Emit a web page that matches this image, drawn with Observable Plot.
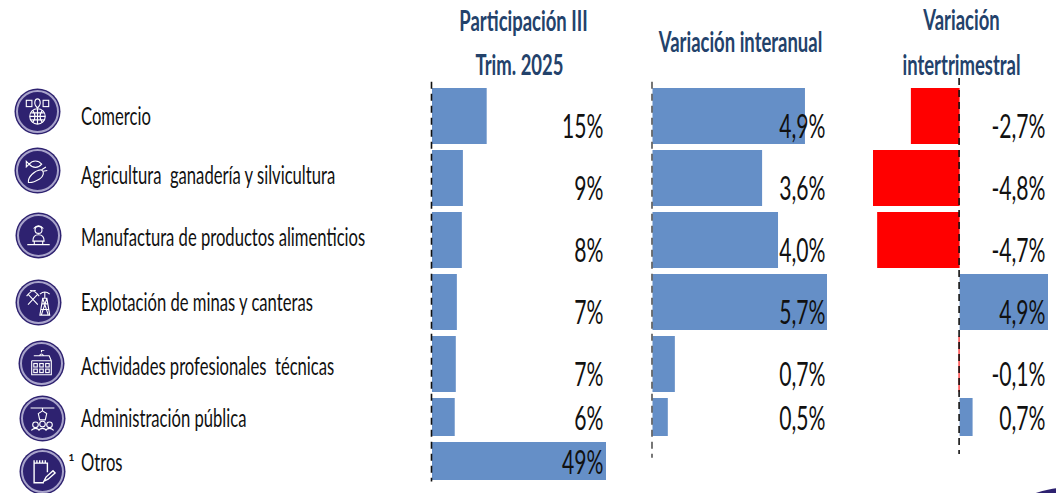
<!DOCTYPE html>
<html>
<head>
<meta charset="utf-8">
<script src="https://cdn.jsdelivr.net/npm/d3@7"></script>
<script src="https://cdn.jsdelivr.net/npm/@observablehq/plot@0.6"></script>
<style>
html,body{margin:0;padding:0;background:#fff;overflow:hidden}
#chart{position:relative;width:1056px;height:493px;overflow:hidden}
#chart svg{position:absolute;left:0;top:0;background:transparent}
</style>
</head>
<body>
<div id="chart"></div>
<script>
const categories = ["Comercio","Agricultura  ganadería y silvicultura","Manufactura de productos alimenticios","Explotación de minas y canteras","Actividades profesionales  técnicas","Administración pública","Otros"];
const shareValues = [15.4,8.7,8.4,7.0,6.7,6.4,49];
const shareLabels = ["15%","9%","8%","7%","7%","6%","49%"];
const yoyValues = [4.98,3.58,4.1,5.7,0.73,0.5];
const yoyLabels = ["4,9%","3,6%","4,0%","5,7%","0,7%","0,5%"];
const qoqValues = [-2.7,-4.8,-4.57,4.9,-0.06,0.72];
const qoqLabels = ["-2,7%","-4,8%","-4,7%","4,9%","-0,1%","0,7%"];

const FONT = "Lato, Carlito, sans-serif";
const squeeze = sx => (index, scales, values, dims, ctx, next) => {
  const g = next(index, scales, values, dims, ctx);
  d3.select(g).selectAll("text").attr("transform", function () {
    return (this.getAttribute("transform") || "") + ` scale(${sx},1)`;
  });
  return g;
};
const yScale = {type: "linear", axis: null, domain: [0, 5, 7], range: [88, 398, 486]};
const base = {width: 1056, height: 493, margin: 0, style: {background: "transparent"}};
const valueRow = i => i + (i < 5 ? 0.63 : 0.47);

function panel(values, labels, domain, range, labelRight, axisTop, axisBottom, axisColor) {
  const rows = values.map((v, i) => ({i, v, label: labels[i]}));
  return Plot.plot({
    ...base,
    x: {axis: null, domain, range},
    y: yScale,
    color: {domain: [false, true], range: ["#658fc7", "#ff0000"]},
    marks: [
      Plot.rectX(rows, {x1: () => 0, x2: "v", y1: "i", y2: d => d.i + 1, insetBottom: 6, fill: d => d.v < 0}),
      Plot.ruleX([0], {y1: () => axisTop, y2: () => axisBottom, stroke: axisColor, strokeWidth: 1.6, strokeDasharray: "7 5", dx: -1}),
      Plot.text(rows, {y: d => valueRow(d.i), text: "label", frameAnchor: "right", dx: labelRight - 1056,
        fontFamily: FONT, fontSize: 33, fill: "#111", render: squeeze(0.64)})
    ]
  });
}

const svgIcon = body => "data:image/svg+xml," + encodeURIComponent(
  `<svg xmlns="http://www.w3.org/2000/svg" viewBox="0 0 40 40" fill="none" stroke="#fff" stroke-width="1.6">${body}</svg>`);
const glyphs = [
  `<circle cx="20" cy="27" r="11"/><path d="M9 27h22M20 16v22M13 18q7 9 0 18M27 18q-7 9 0 18M11 22h18M11 32h18"/><rect x="4" y="4" width="8" height="9"/><rect x="28" y="4" width="8" height="9"/><path d="M20 15c-7-7-3-13 0-13s7 6 0 13z"/>`,
  `<path d="M8 11c5-6 13-6 18 0-5 6-13 6-18 0l-4-4v8z"/><path d="M7 37c-1-8 9-17 18-18 6 3 3 10-2 13-5 3-11 6-16 5z"/><path d="M26 19l6-4M28 21l6-1"/>`,
  `<circle cx="20" cy="12" r="5"/><path d="M13 10q7-8 14 0M12 28c0-7 3-9 8-9s8 2 8 9zM4 33h32M14 28h12v5H14z"/>`,
  `<path d="M5 8l14 15M19 8L5 23M3 11q7-9 13-8M21 11q-7-9-13-8"/><path d="M26 14h6l4 24H22zM24 22h10M23 30h12M26 14l8 24M32 14l-8 24M29 14V5M22 8q7-6 14 0"/>`,
  `<path d="M17 9q3-5 6 0zM20 4V1h4M6 16h28M9 9h22l3 7M6 16v20h28V16"/><rect x="9" y="20" width="5" height="5"/><rect x="17.500" y="20" width="5" height="5"/><rect x="26" y="20" width="5" height="5"/><rect x="9" y="28" width="5" height="5"/><rect x="17.500" y="28" width="5" height="5"/><rect x="26" y="28" width="5" height="5"/>`,
  `<path d="M3 5h34M20 5v4M14 13l6-4 6 4-2 9h-8z"/><circle cx="10" cy="29" r="4"/><circle cx="20" cy="28" r="4"/><circle cx="30" cy="29" r="4"/><path d="M4 37q6-6 12 0M14 37q6-6 12 0M24 37q6-6 12 0"/>`,
  `<path d="M27 21V8H8v28h14M8 8V4M12 8V4M16 8V4M20 8V4M24 8V4" stroke-width="2"/><path d="M22 34l3-6 10-9 3 3-10 9z" stroke-width="2"/>`
];
const iconCenters = [[37,111],[37,170],[38,235],[38,302],[41,363],[42,418],[42,471]];
const iconMarks = iconCenters.flatMap(([dx, dy], k) => {
  const opt = {frameAnchor: "top-left", dx, dy};
  return [
    Plot.dot([0], {...opt, r: 23, fill: "#2e2270"}),
    Plot.dot([0], {...opt, r: 20.5, stroke: "#a9a4cb", strokeWidth: 2, fill: "#2e2270"}),
    Plot.image([0], {...opt, src: () => svgIcon(glyphs[k]), width: 28, height: 28})
  ];
});

const catRows = categories.map((c, i) => ({c, i}));
const labelCenters = [116,175,237,302,366,418,462];
const titles = [
  ["Participación III", 523, 22], ["Trim. 2025", 519, 66],
  ["Variación interanual", 740, 43],
  ["Variación", 961, 21], ["intertrimestral", 961, 66]
];
const backdrop = Plot.plot({
  ...base,
  marks: [
    ...iconMarks,
    ...catRows.map(d => Plot.text([d.c], {text: x => x, frameAnchor: "top-left", dx: 80.5, dy: labelCenters[d.i],
      textAnchor: "start", lineAnchor: "middle", fontFamily: FONT, fontSize: 25, fill: "#111", render: squeeze(0.665)})),
    Plot.text(["1"], {text: x => x, frameAnchor: "top-left", dx: 68, dy: 453, fontFamily: FONT, fontSize: 10, fontWeight: 700, fill: "#111"}),
    ...titles.map(([t, dx, dy]) => Plot.text([t], {text: x => x, frameAnchor: "top-left", dx, dy, textAnchor: "middle",
      lineAnchor: "middle", fontFamily: FONT, fontSize: 28, fontWeight: 700, fill: "#23426b", render: squeeze(0.66)})),
    Plot.dot([0], {frameAnchor: "bottom-right", dx: 12, dy: 94, r: 100, fill: "#2e2270"})
  ]
});

const root = document.getElementById("chart");
root.append(backdrop);
root.append(panel(shareValues, shareLabels, [0, 49], [432, 606], 603, -0.1, 6.9, "#111"));
root.append(panel(yoyValues, yoyLabels, [0, 5.7], [652.5, 827], 825, -0.1, 6.36, "#555"));
root.append(panel(qoqValues, qoqLabels, [-4.8, 4.9], [873, 1048], 1045, -0.16, 6.27, "#111"));
</script>
</body>
</html>
